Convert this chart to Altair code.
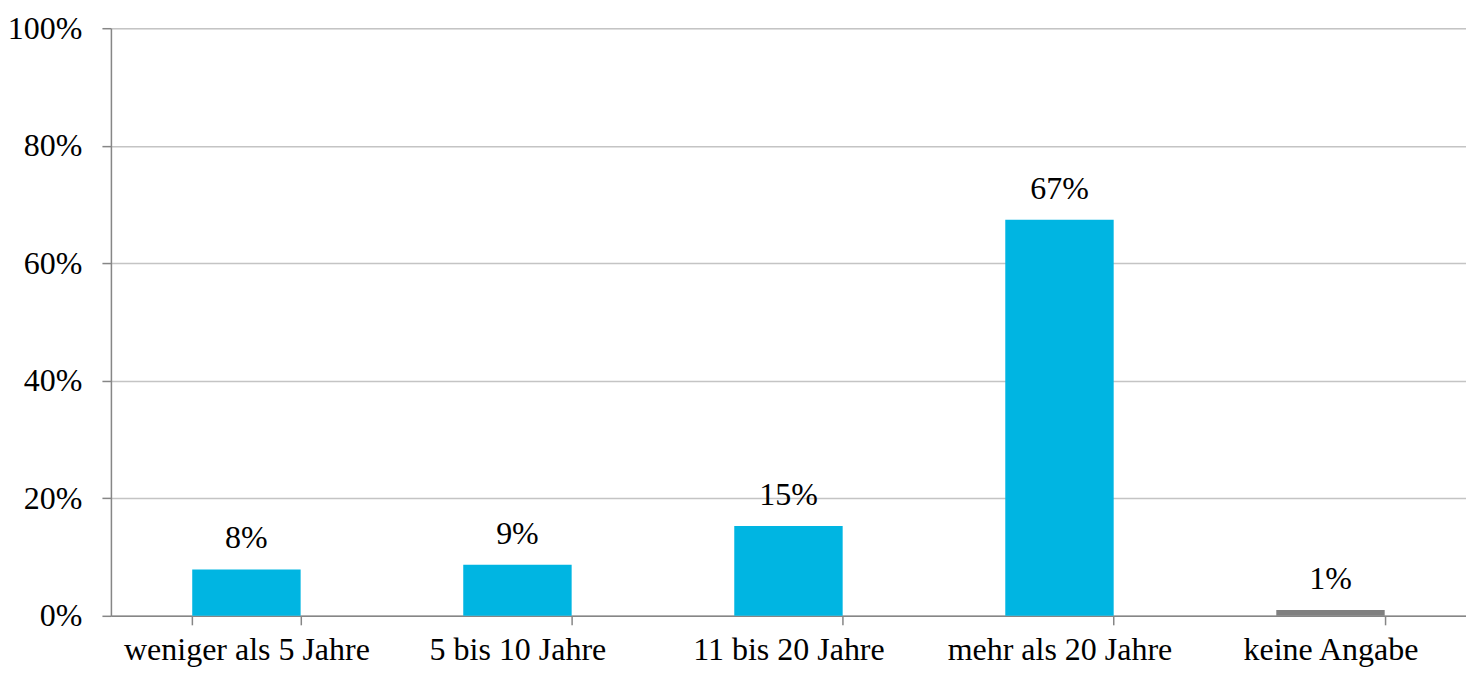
import altair as alt
import pandas as pd

categories = ["weniger als 5 Jahre", "5 bis 10 Jahre", "11 bis 20 Jahre", "mehr als 20 Jahre", "keine Angabe"]
values = [0.079, 0.087, 0.153, 0.674, 0.010]
colors = ["#00B5E2", "#00B5E2", "#00B5E2", "#00B5E2", "#808080"]

df = pd.DataFrame({"cat": categories, "val": values, "col": colors})

FONT = "Liberation Serif"
FS = 32

x = alt.X("cat:N", sort=categories, title=None,
          scale=alt.Scale(paddingInner=0.6, paddingOuter=0.3),
          axis=alt.Axis(labelAngle=0, labelFontSize=FS, labelFont=FONT, labelColor="#000000",
                        labelLimit=0, tickBand="extent", tickSize=9, tickColor="#868686", tickWidth=1.5,
                        domainColor="#868686", domainWidth=1.5, labelPadding=10, grid=False))
y = alt.Y("val:Q", title=None,
          scale=alt.Scale(domain=[0, 1]),
          axis=alt.Axis(values=[0, 0.2, 0.4, 0.6, 0.8, 1.0], format=".0%", labelFontSize=FS,
                        labelFont=FONT, labelColor="#000000", tickSize=9, tickColor="#868686",
                        tickWidth=1.5, domainColor="#868686", domainWidth=1.5, labelPadding=20,
                        gridColor="#C4C4C4", gridWidth=1.5))

bars = alt.Chart(df).mark_bar().encode(x=x, y=y, color=alt.Color("col:N", scale=None))
text = alt.Chart(df).mark_text(baseline="bottom", dy=-14, fontSize=FS, font=FONT, color="#000000").encode(
    x=alt.X("cat:N", sort=categories), y="val:Q", text=alt.Text("val:Q", format=".0%"))

chart = (bars + text).properties(
    width=1356, height=588,
    autosize=alt.AutoSizeParams(type="none"),
    padding={"left": 103, "top": 20, "right": 0, "bottom": 58},
).configure_view(stroke=None).configure(background="white")

chart.save("out.html", embed_options={"renderer": "svg", "actions": False})
